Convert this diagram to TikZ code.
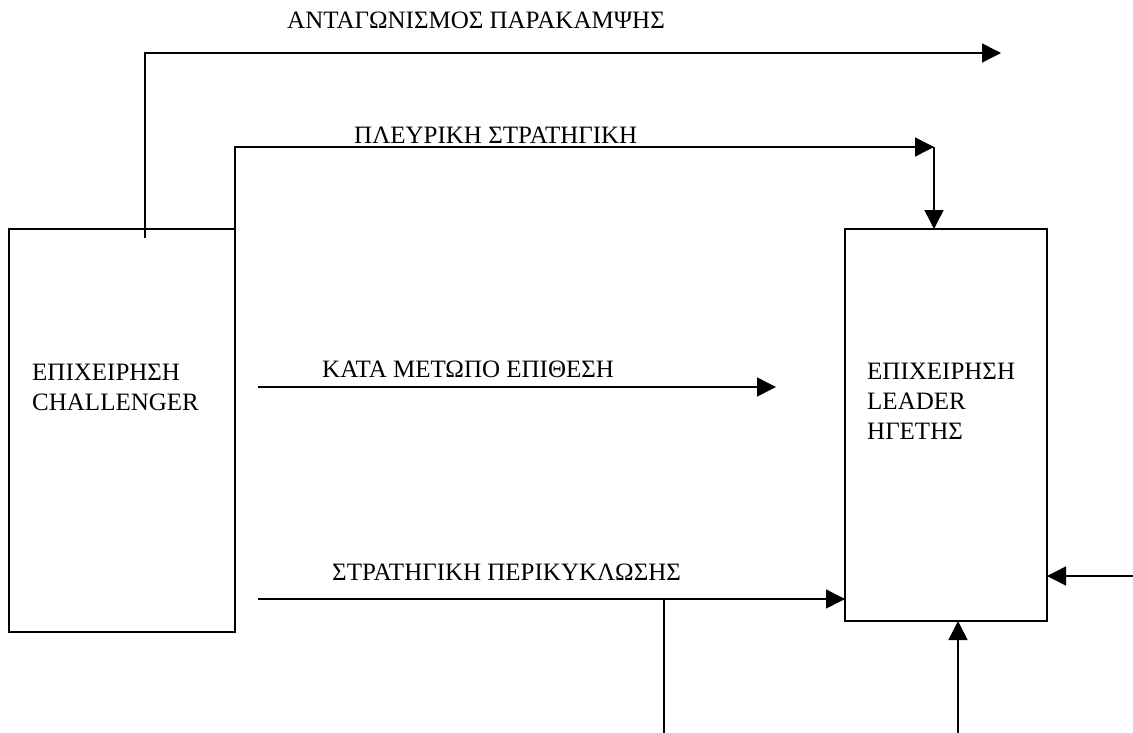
\documentclass[tikz,border=0pt]{standalone}
\usepackage{fontspec}
\setmainfont{Liberation Serif}
\usetikzlibrary{arrows.meta}
\begin{document}
\begin{tikzpicture}[x=1pt,y=-1pt,
  box/.style={draw, line width=1.6pt, inner sep=0pt, outer sep=0pt, anchor=north west},
  conn/.style={line width=1.5pt},
  arr/.style={conn, -{Triangle[length=19pt,width=19pt]}},
  lbl/.style={font=\fontsize{25}{30}\selectfont, inner sep=0pt, align=left}]
\useasboundingbox (0,0) rectangle (1133,733);

% the two firms
\node[box, minimum width=226pt, minimum height=403pt] (chal) at (9,229) {};
\node[box, minimum width=202pt, minimum height=392pt] (lead) at (845,229) {};
\node[lbl, anchor=north west] (tchal) at (32,364) {ΕΠΙΧΕΙΡΗΣΗ\\CHALLENGER};
\node[lbl, anchor=north west] (tlead) at (867,363) {ΕΠΙΧΕΙΡΗΣΗ\\LEADER\\ΗΓΕΤΗΣ};

% strategy labels
\node[lbl, anchor=base west] (t1) at (287,29) {ΑΝΤΑΓΩΝΙΣΜΟΣ ΠΑΡΑΚΑΜΨΗΣ};
\node[lbl, anchor=base west] (t2) at (354,144) {ΠΛΕΥΡΙΚΗ ΣΤΡΑΤΗΓΙΚΗ};
\node[lbl, anchor=base west] (t3) at (322,377) {ΚΑΤΑ ΜΕΤΩΠΟ ΕΠΙΘΕΣΗ};
\node[lbl, anchor=base west] (t4) at (332,580) {ΣΤΡΑΤΗΓΙΚΗ ΠΕΡΙΚΥΚΛΩΣΗΣ};

% connector end points
\coordinate (c1a) at (145,238);
\coordinate (c1b) at (1001,53);
\coordinate (c2) at (934,147);
\coordinate (c3a) at (258,387);
\coordinate (c3b) at (776,387);
\coordinate (c4a) at (258,599);
\coordinate (c5) at (664,733);
\coordinate (c6) at (1133,576);
\coordinate (c7) at (958,733);

% bypass
\draw[arr] (c1a) |- (c1b);
% flank
\draw[arr] (chal.north east) |- (c2);
\draw[arr] (c2) -- (c2 |- lead.north);
% frontal
\draw[arr] (c3a) -- (c3b);
% encirclement
\draw[arr] (c4a) -- (c4a -| lead.west);
\draw[conn] (c5) -- (c5 |- c4a);
\draw[arr] (c6) -- (c6 -| lead.east);
\draw[arr] (c7) -- (c7 |- lead.south);
\end{tikzpicture}
\end{document}
